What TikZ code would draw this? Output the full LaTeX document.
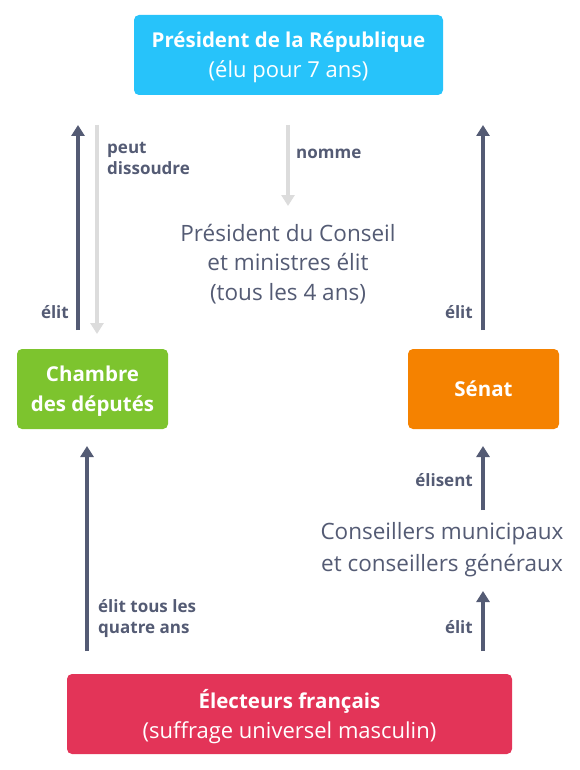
\documentclass[tikz,border=0pt]{standalone}
\usepackage{fontspec}
\setmainfont{Open Sans}
\usetikzlibrary{arrows.meta}
\definecolor{ink}{HTML}{545B74}
\definecolor{pale}{HTML}{DCDCDC}
\definecolor{bleu}{HTML}{27C3FA}
\definecolor{vert}{HTML}{7DC42E}
\definecolor{orange}{HTML}{F58200}
\definecolor{rouge}{HTML}{E33458}
\newcommand{\gras}[1]{{\fontsize{20.5}{30}\selectfont\bfseries #1}}
\tikzset{
  box/.style={rounded corners=5pt, text=white, align=center, inner sep=0pt,
    font=\fontsize{22}{30}\selectfont},
  twolines/.style={text depth=0pt},
  up/.style={ink, line width=4pt, -{Triangle[width=13pt,length=11pt]}},
  down/.style={pale, line width=4pt, -{Triangle[width=13pt,length=11pt]}},
  lbl/.style={ink, font=\fontsize{17}{21}\selectfont\bfseries, inner sep=0pt},
  txt/.style={ink, align=center, inner sep=0pt}
}
\begin{document}
\begin{tikzpicture}[x=1pt,y=-1pt]
	\useasboundingbox (0,0) rectangle (579,770);
	
	\node[box, twolines, fill=bleu, minimum width=309pt, minimum height=80pt] (pres) at (288.5,55)
		{\gras{Président de la République}\\(élu pour 7 ans)};
	\node[box, twolines, fill=vert, minimum width=151pt, minimum height=80pt] (chambre) at (92.5,389)
		{\gras{Chambre}\\\gras{des députés}};
	\node[box, fill=orange, minimum width=151pt, minimum height=80pt] (senat) at (483.5,389)
		{\gras{Sénat}};
	\node[box, twolines, fill=rouge, minimum width=445pt, minimum height=80pt] (electeurs) at (289.5,714)
		{\gras{Électeurs français}\\(suffrage universel masculin)};
	
	\node[txt, font=\fontsize{22.5}{29.5}\selectfont] (conseil) at (288,264)
		{Président du Conseil\\et ministres élit\\(tous les 4 ans)};
	\node[txt, font=\fontsize{22.5}{32}\selectfont] (conseillers) at (442,550)
		{Conseillers municipaux\\et conseillers généraux};
	
	% bouts des flèches
	\coordinate (chambre up) at (78,330);
	\coordinate (pres left) at (78,125);
	\coordinate (pres down) at (97,125);
	\coordinate (chambre top) at (97,334);
	\coordinate (pres mid) at (288,125);
	\coordinate (conseil top) at (288,206);
	\coordinate (senat up) at (483,330);
	\coordinate (pres right) at (483,125);
	\coordinate (conseillers top) at (483,510);
	\coordinate (senat bottom) at (483,446);
	\coordinate (electeurs right) at (483,651);
	\coordinate (conseillers bottom) at (483,591);
	\coordinate (electeurs left) at (87,651);
	\coordinate (chambre bottom) at (87,446);
	
	\draw[up] (chambre up) -- (pres left);
	\draw[down] (pres down) -- (chambre top);
	\draw[down] (pres mid) -- (conseil top);
	\draw[up] (senat up) -- (pres right);
	\draw[up] (conseillers top) -- (senat bottom);
	\draw[up] (electeurs right) -- (conseillers bottom);
	\draw[up] (electeurs left) -- (chambre bottom);
	
	\node[lbl, align=left, anchor=north west] (l1) at (107,142) {peut\\dissoudre};
	\node[lbl, anchor=west] (l2) at (296,154) {nomme};
	\node[lbl, anchor=east] (l3) at (69,312) {élit};
	\node[lbl, anchor=east] (l4) at (473,312) {élit};
	\node[lbl, anchor=east] (l5) at (473,480) {élisent};
	\node[lbl, anchor=east] (l6) at (473,627) {élit};
	\node[lbl, align=left, anchor=north west] (l7) at (98,599) {élit tous les\\quatre ans};
\end{tikzpicture}
\end{document}
